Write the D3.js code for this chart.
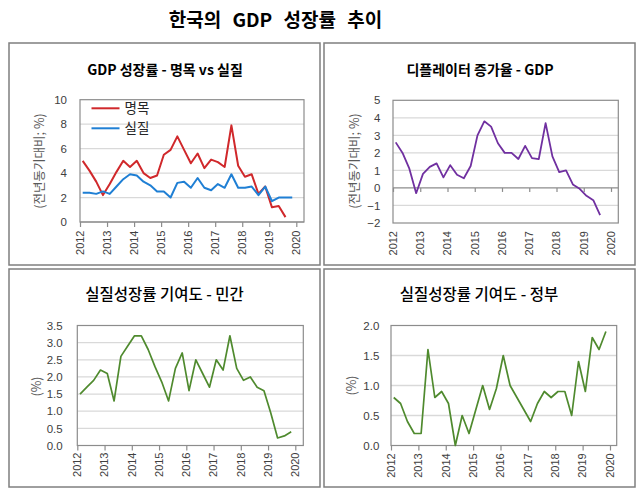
<!DOCTYPE html>
<html><head><meta charset="utf-8">
<script src="https://cdn.jsdelivr.net/npm/d3@7"></script>
<style>
html,body{margin:0;padding:0;background:#fff;}
svg{display:block;}
text{font-family:"Liberation Sans","Noto Sans CJK KR",sans-serif;}
.kr{font-family:"Noto Sans CJK KR","Noto Sans",sans-serif;}
</style></head>
<body>
<svg id="chart" width="639" height="490"></svg>
<script>
// ---------- data ----------
const quarters = ["2012Q1","2012Q2","2012Q3","2012Q4","2013Q1","2013Q2","2013Q3","2013Q4",
  "2014Q1","2014Q2","2014Q3","2014Q4","2015Q1","2015Q2","2015Q3","2015Q4",
  "2016Q1","2016Q2","2016Q3","2016Q4","2017Q1","2017Q2","2017Q3","2017Q4",
  "2018Q1","2018Q2","2018Q3","2018Q4","2019Q1","2019Q2","2019Q3","2019Q4"];
const yearTicks = [2012,2013,2014,2015,2016,2017,2018,2019,2020];

// GDP growth, nominal vs real (YoY %)
const nominal = [5.0,4.2,3.3,2.2,3.1,4.1,5.0,4.5,5.0,4.0,3.6,3.8,5.5,5.9,7.0,5.9,
  4.8,5.6,4.4,5.1,4.9,4.5,7.9,4.6,3.7,3.9,2.3,2.9,1.2,1.3,0.4];
const real = [2.4,2.4,2.3,2.5,2.3,2.9,3.5,3.9,3.8,3.3,3.0,2.5,2.5,2.0,3.2,3.3,
  2.8,3.6,2.8,2.6,3.1,2.8,3.9,2.8,2.8,2.9,2.2,2.9,1.7,2.0,2.0,2.0];
// GDP deflator growth (YoY %)
const deflator = [2.6,2.0,1.1,-0.3,0.8,1.2,1.4,0.6,1.3,0.75,0.55,1.25,3.0,3.8,3.5,2.55,
  2.0,2.0,1.65,2.4,1.7,1.65,3.7,1.8,0.9,1.0,0.2,-0.05,-0.45,-0.7,-1.55];
// contribution to real growth - private
const privateC = [1.5,1.7,1.9,2.2,2.1,1.3,2.6,2.9,3.2,3.2,2.8,2.3,1.85,1.3,2.25,2.7,
  1.6,2.5,2.1,1.7,2.5,2.2,3.2,2.25,1.9,2.0,1.7,1.6,0.95,0.22,0.28,0.4];
// contribution to real growth - government
const governmentC = [0.8,0.7,0.4,0.2,0.2,1.6,0.8,0.9,0.7,0.0,0.5,0.2,0.6,1.0,0.6,0.95,
  1.5,1.0,0.8,0.6,0.4,0.7,0.9,0.8,0.9,0.9,0.5,1.4,0.9,1.8,1.6,1.9];

// ---------- drawing ----------
const svg = d3.select("#chart");
svg.append("rect").attr("width",639).attr("height",490).attr("fill","#fff");

svg.append("text").attr("class","kr")
  .attr("x",275.5).attr("y",27).attr("text-anchor","middle")
  .attr("font-size",19).attr("font-weight","bold").attr("fill","#000")
  .attr("word-spacing","7px")
  .text("한국의 GDP 성장률 추이");

const qTime = q => +q.slice(0,4) + (+q.slice(5) - 1) * 0.25 + 0.1;

function drawPanel(p){
  const g = svg.append("g");
  // panel border
  g.append("rect").attr("x",p.box[0]).attr("y",p.box[1])
    .attr("width",p.box[2]-p.box[0]).attr("height",p.box[3]-p.box[1])
    .attr("fill","#fff").attr("stroke","#7f7f7f").attr("stroke-width",1.5);
  // title
  g.append("text").attr("class","kr")
    .attr("x",p.titleX).attr("y",p.titleY).attr("text-anchor","middle")
    .attr("font-size",p.titleSize).attr("font-weight",p.titleWeight).attr("fill","#000")
    .text(p.title);

  const x = d3.scaleLinear().domain([2012,2020]).range([p.x0,p.x2020]);
  const y = d3.scaleLinear().domain(p.yDomain).range([p.yBottom,p.yTop]);

  // gridlines
  g.append("g").selectAll("line").data(p.yTicks.filter(v=>v!==p.yDomain[0] && v!==p.yDomain[1] && v!==p.zeroLine))
    .join("line")
    .attr("x1",p.x0).attr("x2",p.xRight)
    .attr("y1",d=>y(d)).attr("y2",d=>y(d))
    .attr("stroke","#d9d9d9").attr("stroke-width",1.3);

  // plot border
  g.append("rect").attr("x",p.x0).attr("y",p.yTop)
    .attr("width",p.xRight-p.x0).attr("height",p.yBottom-p.yTop)
    .attr("fill","none").attr("stroke","#8c8c8c").attr("stroke-width",1.2);

  // y axis labels
  const yAxis = d3.axisLeft(y).tickValues(p.yTicks).tickSize(0).tickPadding(p.yPad)
    .tickFormat(p.yFormat);
  const ya = g.append("g").attr("transform",`translate(${p.x0},0)`).call(yAxis);
  ya.select(".domain").remove();
  ya.selectAll("text").attr("font-size",11.5).attr("fill","#404040")
    .attr("font-family","Liberation Sans, sans-serif");

  // x axis line & ticks
  const axisY = p.zeroLine !== undefined ? y(p.zeroLine) : p.yBottom;
  const xAxis = d3.axisBottom(x).tickValues(yearTicks).tickSize(p.tickLen).tickFormat("");
  const xa = g.append("g").attr("transform",`translate(0,${axisY})`).call(xAxis);
  xa.select(".domain").attr("d",`M${p.x0},0H${p.xRight}`).attr("stroke","#8c8c8c").attr("stroke-width",1.2);
  xa.selectAll(".tick line").attr("stroke","#8c8c8c").attr("stroke-width",1.2);

  // x labels (rotated, at bottom)
  g.append("g").selectAll("text").data(yearTicks).join("text")
    .attr("transform",d=>`translate(${x(d)},${p.yBottom + p.xLabOff}) rotate(-90)`)
    .attr("text-anchor","end").attr("dy","0.35em")
    .attr("font-size",11).attr("fill","#404040")
    .text(d=>d);

  // y axis title
  g.append("text").attr("class","kr")
    .attr("transform",`translate(${p.yTitleX},${p.yTitleY}) rotate(-90)`)
    .attr("text-anchor","middle").attr("dy","0.35em")
    .attr("font-size",12.5).attr("fill","#595959")
    .text(p.yTitle);

  // series
  const line = d3.line().x(d=>x(d[0])).y(d=>y(d[1]));
  p.series.forEach(s=>{
    const pts = s.values.map((v,i)=>[qTime(quarters[i]),v]);
    g.append("path").datum(pts).attr("d",line)
      .attr("fill","none").attr("stroke",s.color).attr("stroke-width",s.width)
      .attr("stroke-linejoin","round");
  });

  // legend
  if(p.legend){
    p.series.forEach((s,i)=>{
      const ly = p.legend.y + i*p.legend.dy;
      g.append("line").attr("x1",p.legend.x).attr("x2",p.legend.x+28)
        .attr("y1",ly).attr("y2",ly).attr("stroke",s.color).attr("stroke-width",2);
      g.append("text").attr("class","kr").attr("x",p.legend.x+33).attr("y",ly)
        .attr("dy","0.35em").attr("font-size",13.5).attr("fill","#262626").text(s.name);
    });
  }
}

drawPanel({
  box:[9,43,320,265],
  title:"GDP 성장률 - 명목 vs 실질", titleX:165, titleY:75, titleSize:14, titleWeight:"bold",
  x0:80, x2020:296.3, xRight:304, yTop:99.7, yBottom:222,
  yDomain:[0,10], yTicks:[0,2,4,6,8,10], yFormat:d3.format("d"), yPad:13,
  tickLen:5, xLabOff:8.5,
  yTitle:"(전년동기대비; %)", yTitleX:40, yTitleY:161,
  series:[
    {name:"명목", values:nominal, color:"#d0282b", width:2},
    {name:"실질", values:real, color:"#1f7fd4", width:2}
  ],
  legend:{x:91.5, y:108.3, dy:20}
});

drawPanel({
  box:[324,43,635,265],
  title:"디플레이터 증가율 - GDP", titleX:480, titleY:75, titleSize:14, titleWeight:"bold",
  x0:393, x2020:611, xRight:618.3, yTop:100.3, yBottom:223,
  yDomain:[-2,5], yTicks:[-2,-1,0,1,2,3,4,5], yFormat:d3.format("d"), yPad:12.7,
  zeroLine:0, tickLen:4, xLabOff:8,
  yTitle:"(전년동기대비; %)", yTitleX:355, yTitleY:161,
  series:[{name:"디플레이터", values:deflator, color:"#7030a0", width:1.8}]
});

drawPanel({
  box:[9,269,320,487],
  title:"실질성장률 기여도 - 민간", titleX:164.5, titleY:300, titleSize:15.5, titleWeight:"500",
  x0:77.3, x2020:295.3, xRight:303.3, yTop:325.5, yBottom:445.5,
  yDomain:[0,3.5], yTicks:[0,0.5,1,1.5,2,2.5,3,3.5], yFormat:d3.format(".1f"), yPad:14.6,
  tickLen:5, xLabOff:7,
  yTitle:"(%)", yTitleX:37, yTitleY:386.5,
  series:[{name:"민간", values:privateC, color:"#4f8a2e", width:1.7}]
});

drawPanel({
  box:[324,269,635,487],
  title:"실질성장률 기여도 - 정부", titleX:479, titleY:300, titleSize:15.5, titleWeight:"500",
  x0:391, x2020:610, xRight:616.7, yTop:325.5, yBottom:445.5,
  yDomain:[0,2], yTicks:[0,0.5,1,1.5,2], yFormat:d3.format(".1f"), yPad:11.7,
  tickLen:5, xLabOff:7.8,
  yTitle:"(%)", yTitleX:352, yTitleY:385.5,
  series:[{name:"정부", values:governmentC, color:"#4f8a2e", width:1.7}]
});
</script>
</body></html>
